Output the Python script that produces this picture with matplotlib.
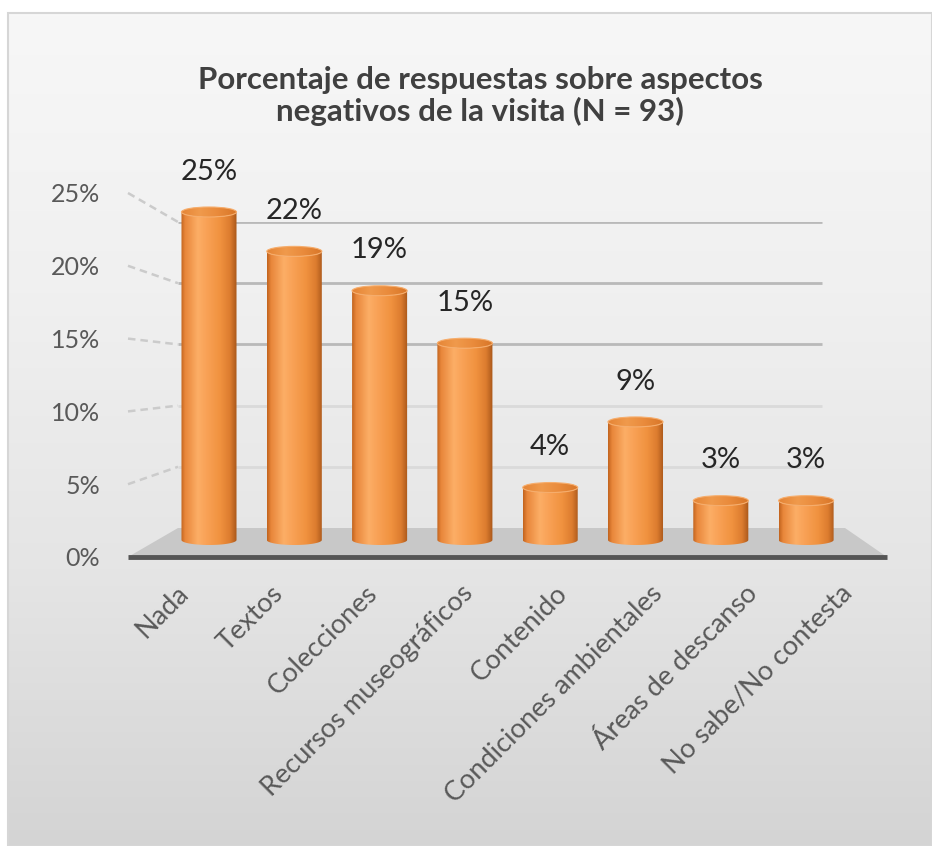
import numpy as np
import matplotlib
matplotlib.use("Agg")
import matplotlib.pyplot as plt
from matplotlib.colors import LinearSegmentedColormap
from matplotlib.patches import PathPatch, Ellipse, Polygon, Rectangle
from matplotlib.path import Path

# ---- data -------------------------------------------------------------
categories = ["Nada", "Textos", "Colecciones", "Recursos museográficos",
              "Contenido", "Condiciones ambientales", "Áreas de descanso",
              "No sabe/No contesta"]
values = [25, 22, 19, 15, 4, 9, 3, 3]
y_ticks = [0, 5, 10, 15, 20, 25]
title = "Porcentaje de respuestas sobre aspectos\nnegativos de la visita (N = 93)"

# ---- figure -----------------------------------------------------------
W, H = 932, 846
plt.rcParams['font.family'] = ['Lato', 'DejaVu Sans']
fig = plt.figure(figsize=(W / 100, H / 100), dpi=100)
fig.patch.set_facecolor("white")


def axes_px(left, right, a, pa, b, pb, lo, hi, xlim, z):
    """Axes spanning pixel columns left..right where value a sits at pixel row
    pa and value b at pixel row pb (rows counted from the top)."""
    k = (pb - pa) / (b - a)
    p_lo = pa + (lo - a) * k
    p_hi = pa + (hi - a) * k
    ax = fig.add_axes([left / W, 1 - p_lo / H, (right - left) / W, (p_lo - p_hi) / H])
    ax.set_xlim(*xlim)
    ax.set_ylim(lo, hi)
    ax.set_zorder(z)
    ax.patch.set_alpha(0)
    for s in ax.spines.values():
        s.set_visible(False)
    return ax


# background canvas in pixel units (origin top-left)
bg = fig.add_axes([0, 0, 1, 1])
bg.set_xlim(0, W)
bg.set_ylim(H, 0)
bg.axis("off")
bg.set_zorder(0)

grad = np.linspace(0, 1, 256)[:, None]
bg_cmap = LinearSegmentedColormap.from_list(
    "bg", ["#f7f7f7", "#f0f0f0", "#e5e5e5", "#d4d4d4"])
bg.imshow(grad, cmap=bg_cmap, extent=[8, W, H, 13], aspect="auto", zorder=0)
bg.add_patch(Rectangle((8, 13), W - 8, H - 13, fill=False,
                       edgecolor="#d6d6d6", lw=1.5, zorder=1))

# back wall with gridlines
ax_b = axes_px(178, 845, 0, 528, 25, 222, 0, 25, (0, 1), 1)
ax_b.set_xticks([])
ax_b.set_yticks([])
for t in y_ticks[1:]:
    c = "#b9b9b9" if t >= 15 else "#dadada"
    ax_b.hlines(t, 0.0, 0.965, color=c, lw=2.0)

# front plane: value axis and category labels
ax_f = axes_px(128, 887, 0, 557, 25, 193, 0, 25, (-0.5, len(categories) - 0.5), 2)
ax_f.set_yticks(y_ticks)
ax_f.set_yticklabels([f"{t}%" for t in y_ticks])
ax_f.set_xticks(range(len(categories)))
ax_f.set_xticklabels(categories)
ax_f.tick_params(axis="y", length=0, pad=20, labelsize=18, labelcolor="#595959")
ax_f.tick_params(axis="x", length=0, pad=17, labelsize=19.5, labelcolor="#595959")
for lab in ax_f.get_xticklabels():
    lab.set_rotation(45)
    lab.set_ha("right")
    lab.set_va("top")
    lab.set_rotation_mode("anchor")

# floor and depth connectors, computed from the two planes
inv = bg.transData.inverted()


def to_bg(ax, x, y):
    return inv.transform(ax.transData.transform((x, y)))


fl = to_bg(ax_f, -0.5, 0)
fr = to_bg(ax_f, len(categories) - 0.5, 0)
br = to_bg(ax_b, 1.0, 0)
bl = to_bg(ax_b, 0.0, 0)
bg.add_patch(Polygon([fl, fr, br, bl], closed=True, facecolor="#c8c8c8",
                     edgecolor="none", zorder=2))
bg.plot([fl[0], fr[0]], [fl[1], fr[1]], color="#555555", lw=3.5,
        solid_capstyle="butt", zorder=3)
for t in y_ticks[1:]:
    p0 = to_bg(ax_f, -0.5, t)
    p1 = to_bg(ax_b, 0.0, t)
    bg.plot([p0[0], p1[0]], [p0[1], p1[1]], color="#cbcbcb", lw=1.8,
            ls=(0, (3, 2)), zorder=3)

# cylinders
ax = axes_px(166.35, 848.75, 0, 540, 25, 212, -1.5, 27,
             (-0.5, len(categories) - 0.5), 3)
ax.set_xticks([])
ax.set_yticks([])
px_per_unit = 328 / 25
eh = 5.0 / px_per_unit
bw = 0.645

body_cmap = LinearSegmentedColormap.from_list(
    "cyl", [(0.0, "#c2641e"), (0.07, "#e8863a"), (0.3, "#fcae66"),
            (0.45, "#f9a257"), (0.7, "#f0923f"), (0.88, "#dc7c2f"),
            (1.0, "#a9571a")])
top_cmap = LinearSegmentedColormap.from_list(
    "cyltop", ["#e58536", "#f09a4c", "#e98a3b", "#d77628"])

t_bottom = np.linspace(np.pi, 2 * np.pi, 60)
t_top = np.linspace(2 * np.pi, np.pi, 60)
for i, v in enumerate(values):
    x0, x1 = i - bw / 2, i + bw / 2
    pts = [(x0, v), (x0, 0)]
    pts += list(zip(i + bw / 2 * np.cos(t_bottom), eh * np.sin(t_bottom)))
    pts += [(x1, 0), (x1, v)]
    pts += list(zip(i + bw / 2 * np.cos(t_top), v + eh * np.sin(t_top)))
    body = PathPatch(Path(pts, closed=False), transform=ax.transData,
                     facecolor="none", edgecolor="none")
    im = ax.imshow(np.linspace(0, 1, 200)[None, :], cmap=body_cmap,
                   extent=[x0, x1, -eh, v + eh], aspect="auto", zorder=2)
    im.set_clip_path(body)

    top = Ellipse((i, v), bw, 2 * eh, transform=ax.transData,
                  facecolor="none", edgecolor="none")
    imt = ax.imshow(np.linspace(0, 1, 200)[None, :], cmap=top_cmap,
                    extent=[x0, x1, v - eh, v + eh], aspect="auto", zorder=3)
    imt.set_clip_path(top)
    ax.add_patch(Ellipse((i, v), bw, 2 * eh, facecolor="none",
                         edgecolor="#f6ad6c", lw=0.8, zorder=4))

    ax.annotate(f"{v}%", (i, v), xytext=(0, 29), textcoords="offset points",
                ha="center", va="center", fontsize=21, color="#262626",
                zorder=5, annotation_clip=False)

ax.set_xlim(-0.5, len(categories) - 0.5)
ax.set_ylim(-1.5, 27)

fig.text(480 / W, 1 - 96 / H, title, ha="center", va="center",
         fontsize=22.5, fontweight="bold", color="#404040", linespacing=1.15)

fig.savefig("out.png", dpi=100)
